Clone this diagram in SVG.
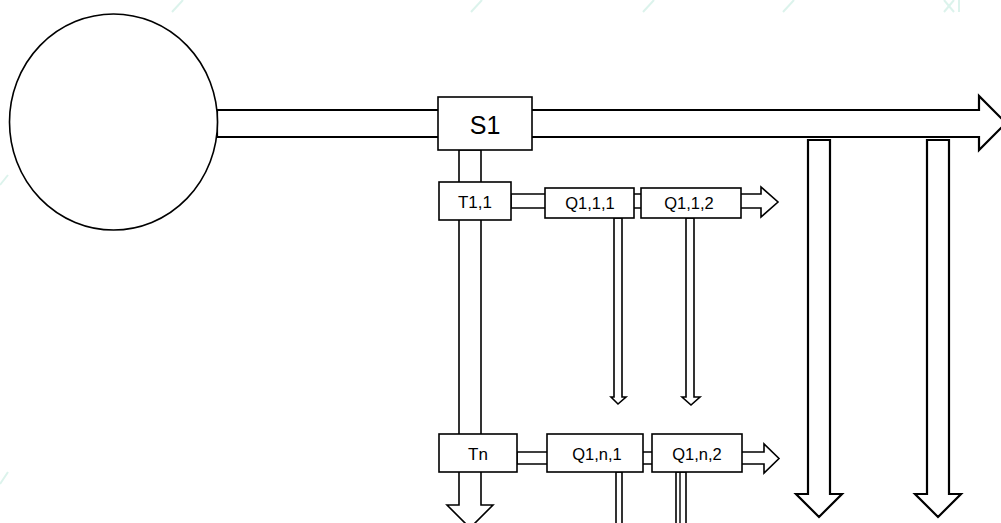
<svg xmlns="http://www.w3.org/2000/svg" width="1001" height="523" viewBox="0 0 1001 523">
  <style>
    .bg{fill:#ffffff}
    .wm{stroke:#dcf3ec;stroke-width:2;fill:none}
    .big{fill:#ffffff;stroke:#000000;stroke-width:2.2;stroke-linejoin:miter}
    .sm{fill:#ffffff;stroke:#000000;stroke-width:1.6;stroke-linejoin:miter}
    .box{fill:#ffffff;stroke:#000000;stroke-width:1.6}
    .lbl{font-family:"Liberation Sans",Arial,sans-serif;fill:#000000;text-anchor:middle}
  </style>
  <rect class="bg" x="0" y="0" width="1001" height="523"/>
  <g id="watermark">
    <line class="wm" x1="172" y1="12" x2="183" y2="0"/>
    <line class="wm" x1="471" y1="12" x2="482" y2="0"/>
    <line class="wm" x1="643" y1="12" x2="654" y2="0"/>
    <line class="wm" x1="783" y1="12" x2="794" y2="0"/>
    <line class="wm" x1="944" y1="12" x2="954" y2="0"/>
    <line class="wm" x1="944" y1="0" x2="954" y2="12"/>
    <line class="wm" x1="959" y1="0" x2="959" y2="12"/>
    <line class="wm" x1="0" y1="185" x2="8" y2="175"/>
    <line class="wm" x1="0" y1="484" x2="8" y2="472"/>
  </g>
  <g id="connectors">
    <path class="big" d="M217,110 H979 V96 L1006,123 L979,150 V137 H217 Z"/>
    <path class="sm" d="M459,150 H481 V505 H493 L470,528 L447,505 H459 Z"/>
    <path class="sm" d="M511,194 H761 V187 L778,202 L761,217 V208 H511 Z"/>
    <path class="sm" d="M517,452 H764 V444 L779,458.5 L764,473 V464 H517 Z"/>
    <path class="sm" d="M614,218 H622 V397 H626 L618,404 L611,397 H614 Z"/>
    <path class="sm" d="M686,218 H694 V397 H700 L691,405 L682,397 H686 Z"/>
    <path class="sm" d="M616,472 H622 V530 H616 Z"/>
    <path class="sm" d="M676,472 H686 V530 H676 Z"/>
    <line x1="680" y1="472" x2="680" y2="530" stroke="#000" stroke-width="1.4"/>
    <path class="big" d="M808,140 H830 V494 H842 L819,517 L796,494 H808 Z"/>
    <path class="big" d="M927,140 H949 V494 H961 L938,517 L915,494 H927 Z"/>
  </g>
  <g id="source">
    <ellipse cx="113.5" cy="122" rx="104" ry="108" fill="#ffffff" stroke="#000" stroke-width="1.6"/>
  </g>
  <g id="S1">
    <rect class="box" x="438" y="97" width="94" height="53"/>
    <text class="lbl" x="485" y="134" font-size="25">S1</text>
  </g>
  <g id="T11">
    <rect class="box" x="439" y="182" width="72" height="38"/>
    <text class="lbl" x="475" y="208" font-size="17">T1,1</text>
  </g>
  <g id="Q111">
    <rect class="box" x="545" y="188" width="89" height="30"/>
    <text class="lbl" x="590" y="209" font-size="16.5">Q1,1,1</text>
  </g>
  <g id="Q112">
    <rect class="box" x="641" y="188" width="100" height="30"/>
    <text class="lbl" x="689" y="209" font-size="16.5">Q1,1,2</text>
  </g>
  <g id="Tn">
    <rect class="box" x="439" y="434" width="78" height="38"/>
    <text class="lbl" x="478" y="460" font-size="17">Tn</text>
  </g>
  <g id="Q1n1">
    <rect class="box" x="547" y="434" width="96" height="38"/>
    <text class="lbl" x="597" y="460" font-size="16.5">Q1,n,1</text>
  </g>
  <g id="Q1n2">
    <rect class="box" x="652" y="434" width="90" height="38"/>
    <text class="lbl" x="697" y="460" font-size="16.5">Q1,n,2</text>
  </g>
</svg>
